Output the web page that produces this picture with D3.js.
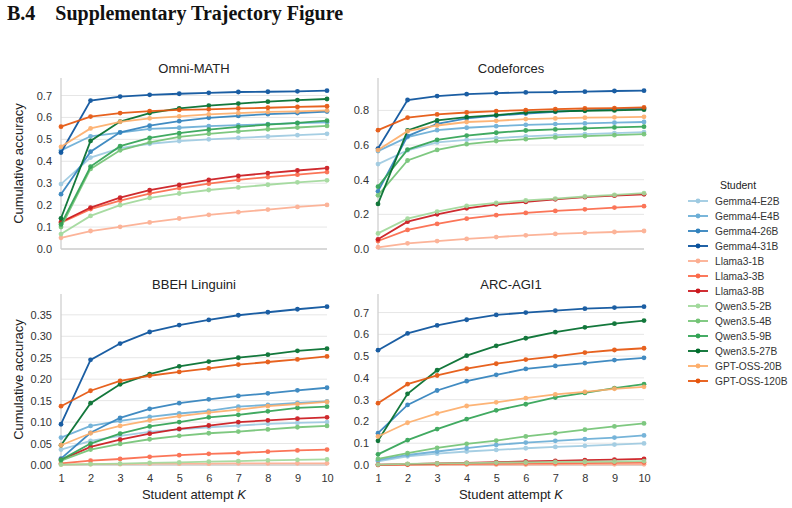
<!DOCTYPE html>
<html>
<head>
<meta charset="utf-8">
<script src="https://cdn.jsdelivr.net/npm/d3@7"></script>
<style>
  body { margin: 0; background: #fff; }
  svg { display: block; font-family: 'Liberation Sans', Arial, sans-serif; }
</style>
</head>
<body>
<svg id="chart" width="792" height="508"></svg>
<script>
// students, legend order (also draw order)
let students = ['Gemma4-E2B', 'Gemma4-E4B', 'Gemma4-26B', 'Gemma4-31B',
  'Llama3-1B', 'Llama3-3B', 'Llama3-8B',
  'Qwen3.5-2B', 'Qwen3.5-4B', 'Qwen3.5-9B', 'Qwen3.5-27B',
  'GPT-OSS-20B', 'GPT-OSS-120B']

let colors = ['#9ecae1', '#6baed6', '#3182bd', '#08519c',
  '#fcae91', '#fb6a4a', '#cb181d',
  '#a1d99b', '#74c476', '#31a354', '#006d2c',
  '#fdae6b', '#e6550d']

let attempts = [1, 2, 3, 4, 5, 6, 7, 8, 9, 10]

// cumulative accuracy per student, rows in the order of `students`
let omniMath = [
  [0.296, 0.417, 0.460, 0.480, 0.492, 0.500, 0.507, 0.513, 0.519, 0.525],
  [0.450, 0.514, 0.531, 0.548, 0.553, 0.560, 0.565, 0.569, 0.574, 0.578],
  [0.250, 0.444, 0.532, 0.563, 0.583, 0.598, 0.607, 0.615, 0.620, 0.627],
  [0.440, 0.677, 0.695, 0.703, 0.708, 0.712, 0.716, 0.717, 0.719, 0.722],
  [0.051, 0.082, 0.101, 0.121, 0.139, 0.156, 0.168, 0.180, 0.192, 0.201],
  [0.120, 0.182, 0.221, 0.253, 0.278, 0.298, 0.315, 0.328, 0.339, 0.351],
  [0.123, 0.189, 0.234, 0.268, 0.292, 0.315, 0.333, 0.346, 0.358, 0.369],
  [0.068, 0.151, 0.200, 0.233, 0.253, 0.269, 0.281, 0.293, 0.304, 0.313],
  [0.100, 0.365, 0.450, 0.486, 0.511, 0.525, 0.536, 0.546, 0.554, 0.561],
  [0.112, 0.376, 0.469, 0.507, 0.528, 0.544, 0.557, 0.567, 0.575, 0.585],
  [0.140, 0.493, 0.581, 0.620, 0.641, 0.654, 0.663, 0.672, 0.679, 0.684],
  [0.466, 0.550, 0.580, 0.596, 0.605, 0.614, 0.620, 0.625, 0.628, 0.632],
  [0.558, 0.604, 0.620, 0.629, 0.634, 0.637, 0.641, 0.644, 0.648, 0.651]
]

let codeforces = [
  [0.490, 0.570, 0.615, 0.630, 0.640, 0.650, 0.657, 0.663, 0.669, 0.675],
  [0.565, 0.646, 0.686, 0.700, 0.709, 0.717, 0.721, 0.725, 0.729, 0.733],
  [0.333, 0.652, 0.723, 0.754, 0.770, 0.782, 0.792, 0.800, 0.806, 0.812],
  [0.580, 0.860, 0.883, 0.894, 0.900, 0.904, 0.906, 0.908, 0.912, 0.914],
  [0.010, 0.033, 0.046, 0.058, 0.069, 0.079, 0.087, 0.093, 0.098, 0.104],
  [0.046, 0.110, 0.145, 0.175, 0.195, 0.208, 0.220, 0.229, 0.239, 0.247],
  [0.056, 0.158, 0.200, 0.235, 0.258, 0.272, 0.287, 0.299, 0.308, 0.316],
  [0.090, 0.175, 0.216, 0.249, 0.266, 0.280, 0.291, 0.303, 0.312, 0.322],
  [0.310, 0.511, 0.572, 0.605, 0.623, 0.634, 0.644, 0.652, 0.657, 0.663],
  [0.360, 0.574, 0.630, 0.655, 0.671, 0.684, 0.690, 0.696, 0.702, 0.706],
  [0.260, 0.684, 0.742, 0.761, 0.773, 0.788, 0.794, 0.798, 0.800, 0.804],
  [0.571, 0.680, 0.713, 0.733, 0.740, 0.750, 0.754, 0.758, 0.760, 0.763],
  [0.686, 0.758, 0.777, 0.788, 0.796, 0.802, 0.807, 0.811, 0.813, 0.817]
]

let bbehLinguini = [
  [0.036, 0.056, 0.068, 0.077, 0.083, 0.088, 0.092, 0.096, 0.098, 0.100],
  [0.064, 0.091, 0.103, 0.112, 0.120, 0.126, 0.136, 0.140, 0.145, 0.148],
  [0.015, 0.075, 0.110, 0.131, 0.144, 0.153, 0.161, 0.167, 0.174, 0.180],
  [0.095, 0.245, 0.283, 0.310, 0.326, 0.338, 0.349, 0.356, 0.363, 0.369],
  [0.001, 0.002, 0.002, 0.003, 0.003, 0.003, 0.004, 0.004, 0.004, 0.004],
  [0.004, 0.010, 0.014, 0.019, 0.023, 0.026, 0.028, 0.031, 0.034, 0.036],
  [0.012, 0.042, 0.059, 0.073, 0.084, 0.092, 0.100, 0.104, 0.108, 0.111],
  [0.001, 0.002, 0.003, 0.005, 0.006, 0.008, 0.009, 0.011, 0.012, 0.013],
  [0.010, 0.036, 0.049, 0.060, 0.068, 0.074, 0.078, 0.083, 0.088, 0.091],
  [0.012, 0.050, 0.073, 0.090, 0.100, 0.111, 0.117, 0.125, 0.133, 0.136],
  [0.046, 0.144, 0.188, 0.212, 0.230, 0.241, 0.250, 0.257, 0.266, 0.271],
  [0.046, 0.074, 0.091, 0.104, 0.114, 0.122, 0.129, 0.137, 0.142, 0.147],
  [0.137, 0.173, 0.196, 0.208, 0.217, 0.225, 0.234, 0.240, 0.246, 0.253]
]

let arcAgi1 = [
  [0.017, 0.040, 0.052, 0.062, 0.069, 0.077, 0.083, 0.088, 0.094, 0.099],
  [0.022, 0.046, 0.062, 0.077, 0.092, 0.103, 0.111, 0.119, 0.126, 0.136],
  [0.146, 0.276, 0.342, 0.385, 0.414, 0.441, 0.455, 0.468, 0.482, 0.492],
  [0.527, 0.604, 0.641, 0.667, 0.689, 0.700, 0.709, 0.718, 0.723, 0.727],
  [0.000, 0.001, 0.001, 0.002, 0.002, 0.002, 0.003, 0.003, 0.003, 0.003],
  [0.001, 0.002, 0.004, 0.005, 0.006, 0.007, 0.008, 0.009, 0.010, 0.011],
  [0.002, 0.004, 0.007, 0.010, 0.013, 0.016, 0.019, 0.022, 0.025, 0.028],
  [0.002, 0.005, 0.007, 0.009, 0.011, 0.012, 0.014, 0.015, 0.016, 0.018],
  [0.028, 0.054, 0.079, 0.097, 0.112, 0.131, 0.146, 0.162, 0.177, 0.191],
  [0.049, 0.114, 0.165, 0.211, 0.251, 0.279, 0.310, 0.331, 0.353, 0.371],
  [0.111, 0.327, 0.435, 0.502, 0.547, 0.582, 0.610, 0.632, 0.649, 0.663],
  [0.131, 0.194, 0.237, 0.271, 0.288, 0.307, 0.324, 0.336, 0.350, 0.359],
  [0.284, 0.371, 0.411, 0.442, 0.465, 0.484, 0.499, 0.516, 0.528, 0.536]
]

let omniTicks = [0, 0.1, 0.2, 0.3, 0.4, 0.5, 0.6, 0.7]
let codeforcesTicks = [0, 0.2, 0.4, 0.6, 0.8]
let bbehTicks = [0, 0.05, 0.1, 0.15, 0.2, 0.25, 0.3, 0.35]
let arcTicks = [0, 0.1, 0.2, 0.3, 0.4, 0.5, 0.6, 0.7]

let panels = [
  { title: 'Omni-MATH', data: omniMath, ticks: omniTicks, fmt: '.1f', x: 61, y: 78, ylabel: true, xlabel: false },
  { title: 'Codeforces', data: codeforces, ticks: codeforcesTicks, fmt: '.1f', x: 378, y: 78, ylabel: false, xlabel: false },
  { title: 'BBEH Linguini', data: bbehLinguini, ticks: bbehTicks, fmt: '.2f', x: 61, y: 294, ylabel: true, xlabel: true },
  { title: 'ARC-AGI1', data: arcAgi1, ticks: arcTicks, fmt: '.1f', x: 378, y: 294, ylabel: false, xlabel: true }
]

let width = 266
let height = 171

let svg = d3.select('#chart')

svg.append('text')
  .attr('x', 7)
  .attr('y', 20)
  .attr('font-family', "'Liberation Serif', 'Times New Roman', serif")
  .attr('font-weight', 'bold')
  .attr('font-size', 20)
  .attr('fill', '#111')
  .attr('xml:space', 'preserve')
  .text('B.4    Supplementary Trajectory Figure')

let xScale = d3.scaleLinear().domain([1, 10]).range([0, width])

panels.forEach(p => {
  let maxVal = d3.max(p.data, row => d3.max(row))
  let yScale = d3.scaleLinear().domain([0, maxVal * 1.08]).range([height, 0])

  let g = svg.append('g').attr('transform', `translate(${p.x},${p.y})`)

  // horizontal grid
  g.selectAll('.grid')
    .data(p.ticks)
    .enter()
    .append('line')
    .attr('x1', 0)
    .attr('x2', width)
    .attr('y1', d => yScale(d))
    .attr('y2', d => yScale(d))
    .attr('stroke', '#e6e6e6')
    .attr('stroke-width', 1)

  // spines (left + bottom)
  g.append('line')
    .attr('x1', 0).attr('x2', 0)
    .attr('y1', 0).attr('y2', height)
    .attr('stroke', '#cfcfcf')
    .attr('stroke-width', 1.3)
  g.append('line')
    .attr('x1', 0).attr('x2', width)
    .attr('y1', height).attr('y2', height)
    .attr('stroke', '#cfcfcf')
    .attr('stroke-width', 1.3)

  let yAxis = d3.axisLeft(yScale)
    .tickValues(p.ticks)
    .tickFormat(d3.format(p.fmt))
    .tickSize(0)
    .tickPadding(9)
  let ya = g.append('g').call(yAxis)
  ya.select('.domain').remove()
  ya.selectAll('text')
    .attr('font-size', 11)
    .attr('fill', '#333')
    .attr('font-family', "'Liberation Sans', Arial, sans-serif")

  if (p.xlabel) {
    let xAxis = d3.axisBottom(xScale)
      .tickValues(attempts)
      .tickFormat(d3.format('d'))
      .tickSize(0)
      .tickPadding(9)
    let xa = g.append('g').attr('transform', `translate(0,${height})`).call(xAxis)
    xa.select('.domain').remove()
    xa.selectAll('text')
      .attr('font-size', 11)
      .attr('fill', '#333')
      .attr('font-family', "'Liberation Sans', Arial, sans-serif")

    let xl = g.append('text')
      .attr('x', width / 2)
      .attr('y', height + 34)
      .attr('text-anchor', 'middle')
      .attr('font-size', 13)
      .attr('fill', '#222')
    xl.append('tspan').text('Student attempt ')
    xl.append('tspan').attr('font-style', 'italic').text('K')
  }

  if (p.ylabel) {
    g.append('text')
      .attr('transform', `translate(${-38},${height / 2})rotate(-90)`)
      .attr('text-anchor', 'middle')
      .attr('font-size', 13)
      .attr('fill', '#222')
      .text('Cumulative accuracy')
  }

  g.append('text')
    .attr('x', width / 2)
    .attr('y', -5)
    .attr('text-anchor', 'middle')
    .attr('font-size', 13)
    .attr('fill', '#222')
    .text(p.title)

  let line = d3.line()
    .x((d, i) => xScale(attempts[i]))
    .y(d => yScale(d))

  p.data.forEach((row, s) => {
    let sg = g.append('g').attr('opacity', 0.92)
    sg.append('path')
      .attr('d', line(row))
      .attr('fill', 'none')
      .attr('stroke', colors[s])
      .attr('stroke-width', 1.8)
    sg.selectAll('circle')
      .data(row)
      .enter()
      .append('circle')
      .attr('cx', (d, i) => xScale(attempts[i]))
      .attr('cy', d => yScale(d))
      .attr('r', 2.4)
      .attr('fill', colors[s])
  })
})

// legend
let legend = svg.append('g').attr('transform', 'translate(688,0)')
legend.append('text')
  .attr('x', 50)
  .attr('y', 189)
  .attr('text-anchor', 'middle')
  .attr('font-size', 10.5)
  .attr('fill', '#222')
  .text('Student')

let legendScale = d3.scalePoint().domain(students).range([201, 381])

students.forEach((name, i) => {
  let y = legendScale(name)
  legend.append('line')
    .attr('x1', 0).attr('x2', 20)
    .attr('y1', y).attr('y2', y)
    .attr('stroke', colors[i])
    .attr('stroke-width', 1.8)
  legend.append('circle')
    .attr('cx', 10).attr('cy', y).attr('r', 2.4)
    .attr('fill', colors[i])
  legend.append('text')
    .attr('x', 27)
    .attr('y', y)
    .attr('dy', '0.35em')
    .attr('font-size', 10.2)
    .attr('fill', '#333')
    .text(name)
})
</script>
</body>
</html>
